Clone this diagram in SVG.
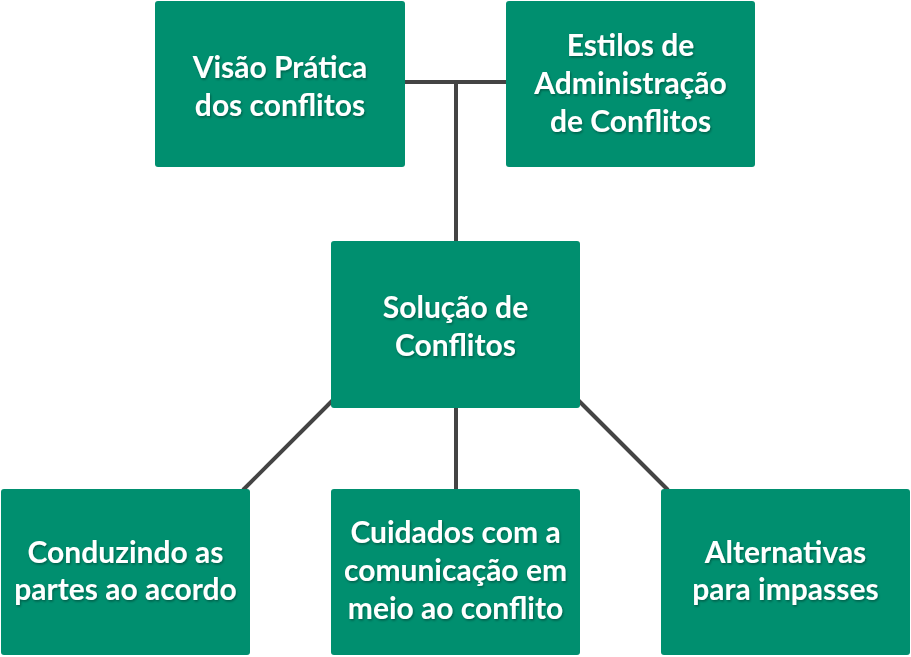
<svg xmlns="http://www.w3.org/2000/svg" width="911" height="657" viewBox="0 0 911 657">
<defs>
<style>
.box{fill:#008F6F;}
.t{font-family:Lato,"Open Sans",sans-serif;font-weight:bold;font-size:30px;fill:#ffffff;text-anchor:middle;filter:url(#sh);}
.c{stroke:#444444;stroke-width:4;fill:none;}
</style>
<filter id="sh" x="-10%" y="-30%" width="120%" height="160%">
<feDropShadow dx="1" dy="1.5" stdDeviation="0.8" flood-color="#000" flood-opacity="0.35"/>
</filter>
</defs>
<rect width="911" height="657" fill="#ffffff"/>
<g id="connectors">
<line class="c" x1="405" y1="82" x2="506" y2="82"/>
<line class="c" x1="456" y1="82" x2="456" y2="242"/>
<line class="c" x1="456" y1="407" x2="456" y2="490"/>
<line class="c" x1="333" y1="400" x2="243" y2="490"/>
<line class="c" x1="578" y1="400" x2="668" y2="490"/>
</g>
<g id="n1">
<rect class="box" x="155" y="1" width="250" height="166" rx="3"/>
<text class="t" x="280" y="78">Visão Prática</text>
<text class="t" x="280" y="116">dos conflitos</text>
</g>
<g id="n2">
<rect class="box" x="506" y="1" width="249" height="166" rx="3"/>
<text class="t" x="630.5" y="56">Estilos de</text>
<text class="t" x="630.5" y="94">Administração</text>
<text class="t" x="630.5" y="132">de Conflitos</text>
</g>
<g id="n3">
<rect class="box" x="331" y="241" width="249" height="167" rx="3"/>
<text class="t" x="455.5" y="318">Solução de</text>
<text class="t" x="455.5" y="356">Conflitos</text>
</g>
<g id="n4">
<rect class="box" x="1" y="489" width="249" height="166" rx="3"/>
<text class="t" x="125.5" y="563">Conduzindo as</text>
<text class="t" x="125.5" y="600">partes ao acordo</text>
</g>
<g id="n5">
<rect class="box" x="331" y="489" width="249" height="166" rx="3"/>
<text class="t" x="455.5" y="543">Cuidados com a</text>
<text class="t" x="455.5" y="581">comunicação em</text>
<text class="t" x="455.5" y="619">meio ao conflito</text>
</g>
<g id="n6">
<rect class="box" x="661" y="489" width="249" height="166" rx="3"/>
<text class="t" x="785.5" y="563">Alternativas</text>
<text class="t" x="785.5" y="600">para impasses</text>
</g>
</svg>
